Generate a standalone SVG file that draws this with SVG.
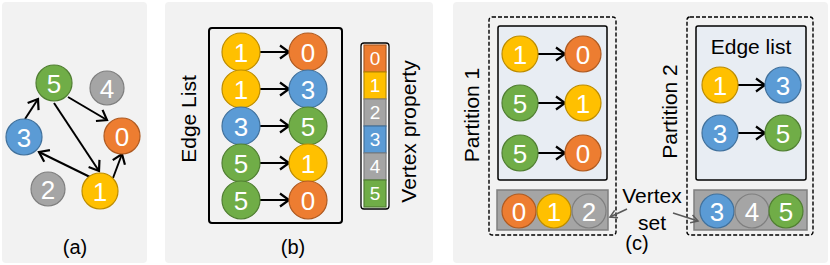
<svg xmlns="http://www.w3.org/2000/svg" width="830" height="265" viewBox="0 0 830 265">
<style>
text{font-family:"Liberation Sans",Arial,sans-serif;}
.bg{fill:#f2f2f2;}
.n text{fill:#fff;font-size:26px;text-anchor:middle;}
.o{fill:#ed7d31;stroke:#ae5a21;stroke-width:1.2;}
.y{fill:#ffc000;stroke:#bc8c00;stroke-width:1.2;}
.b{fill:#5b9bd5;stroke:#41719c;stroke-width:1.2;}
.g{fill:#70ad47;stroke:#507e32;stroke-width:1.2;}
.k{fill:#a5a5a5;stroke:#7f7f7f;stroke-width:1.2;}
.e{stroke:#000;stroke-width:2;fill:none;marker-end:url(#ah);}
.ga{stroke:#595959;stroke-width:1.5;fill:none;marker-end:url(#ag);}
.lbl{fill:#000;font-size:21px;text-anchor:middle;}
.cap{fill:#000;font-size:20px;text-anchor:middle;}
.box{fill:none;stroke:#000;stroke-width:2;}
.ebox{fill:#e8edf3;stroke:#000;stroke-width:1.5;}
.dash{fill:none;stroke:#000;stroke-width:1.4;stroke-dasharray:4,2;}
.vbar{fill:#a5a5a5;stroke:#7f7f7f;stroke-width:1.5;}
.cell text{fill:#fff;font-size:19px;text-anchor:middle;}
</style>
<defs>
<marker id="ah" markerUnits="userSpaceOnUse" markerWidth="16" markerHeight="16" refX="11" refY="8" orient="auto">
<path d="M2,1.5 L11,8 L2,14.5" fill="none" stroke="#000" stroke-width="2.2"/>
</marker>
<marker id="ag" markerUnits="userSpaceOnUse" markerWidth="12" markerHeight="12" refX="9" refY="6" orient="auto">
<path d="M2,2 L9,6 L2,10" fill="none" stroke="#595959" stroke-width="1.5"/>
</marker>
</defs>

<!-- panel backgrounds -->
<rect class="bg" x="2" y="2" width="145" height="261" rx="4"/>
<rect class="bg" x="165" y="2" width="268" height="261" rx="4"/>
<rect class="bg" x="453" y="2" width="375" height="261" rx="4"/>

<!-- panel a -->
<g id="connectors-a">
<line class="e" x1="25" y1="119" x2="38" y2="99"/>
<line class="e" x1="68" y1="97" x2="107" y2="120"/>
<line class="e" x1="54" y1="103" x2="99" y2="171"/>
<line class="e" x1="90" y1="177" x2="39" y2="152"/>
<line class="e" x1="113" y1="178" x2="122" y2="154"/>
</g>
<g id="a-node5" class="n"><circle class="g" cx="54" cy="83" r="18"/><text x="54" y="92.5">5</text></g>
<g id="a-node4" class="n"><circle class="k" cx="107" cy="88" r="17"/><text x="107" y="97.5">4</text></g>
<g id="a-node3" class="n"><circle class="b" cx="24" cy="137" r="18"/><text x="24" y="146.5">3</text></g>
<g id="a-node0" class="n"><circle class="o" cx="122" cy="136" r="18"/><text x="122" y="145.5">0</text></g>
<g id="a-node2" class="n"><circle class="k" cx="48" cy="189" r="17"/><text x="48" y="198.5">2</text></g>
<g id="a-node1" class="n"><circle class="y" cx="100" cy="191" r="18"/><text x="100" y="200.5">1</text></g>
<text class="cap" x="75" y="254">(a)</text>

<!-- panel b -->
<g id="b-edgelist">
<rect class="box" x="209" y="28" width="133" height="195" rx="3"/>
</g>
<g id="connectors-b">
<line class="e" x1="260" y1="52" x2="289" y2="52"/>
<line class="e" x1="260" y1="89" x2="289" y2="89"/>
<line class="e" x1="260" y1="126" x2="289" y2="126"/>
<line class="e" x1="260" y1="163" x2="289" y2="163"/>
<line class="e" x1="260" y1="200" x2="289" y2="200"/>
</g>
<g id="b-r1l" class="n"><circle class="y" cx="241" cy="52" r="19"/><text x="241" y="61.5">1</text></g>
<g id="b-r1r" class="n"><circle class="o" cx="308" cy="52" r="19"/><text x="308" y="61.5">0</text></g>
<g id="b-r2l" class="n"><circle class="y" cx="241" cy="89" r="19"/><text x="241" y="98.5">1</text></g>
<g id="b-r2r" class="n"><circle class="b" cx="308" cy="89" r="19"/><text x="308" y="98.5">3</text></g>
<g id="b-r3l" class="n"><circle class="b" cx="241" cy="126" r="19"/><text x="241" y="135.5">3</text></g>
<g id="b-r3r" class="n"><circle class="g" cx="308" cy="126" r="19"/><text x="308" y="135.5">5</text></g>
<g id="b-r4l" class="n"><circle class="g" cx="241" cy="163" r="19"/><text x="241" y="172.5">5</text></g>
<g id="b-r4r" class="n"><circle class="y" cx="308" cy="163" r="19"/><text x="308" y="172.5">1</text></g>
<g id="b-r5l" class="n"><circle class="g" cx="241" cy="200" r="19"/><text x="241" y="209.5">5</text></g>
<g id="b-r5r" class="n"><circle class="o" cx="308" cy="200" r="19"/><text x="308" y="209.5">0</text></g>
<text class="lbl" transform="translate(196,119) rotate(-90)">Edge List</text>

<g id="b-vprop" class="cell">
<rect x="361" y="43" width="28" height="166" rx="3" fill="#fff" stroke="#000" stroke-width="1.3"/>
<rect class="o" x="364" y="45" width="22" height="27"/><text x="375" y="65">0</text>
<rect class="y" x="364" y="72" width="22" height="27"/><text x="375" y="92">1</text>
<rect class="k" x="364" y="99" width="22" height="27"/><text x="375" y="119">2</text>
<rect class="b" x="364" y="126" width="22" height="27"/><text x="375" y="146">3</text>
<rect class="k" x="364" y="153" width="22" height="27"/><text x="375" y="173">4</text>
<rect class="g" x="364" y="180" width="22" height="27"/><text x="375" y="200">5</text>
</g>
<text class="lbl" transform="translate(416,131.5) rotate(-90)">Vertex property</text>
<text class="cap" x="293" y="254">(b)</text>

<!-- panel c -->
<g id="c-partition1">
<rect class="dash" x="489" y="17" width="127" height="218" rx="3"/>
<rect class="ebox" x="498" y="26" width="109" height="154" rx="2"/>
<rect class="vbar" x="497" y="190" width="111" height="40"/>
</g>
<g id="c-partition2">
<rect class="dash" x="687" y="17" width="126" height="218" rx="3"/>
<rect class="ebox" x="696" y="26" width="110" height="154" rx="2"/>
<rect class="vbar" x="694" y="190" width="113" height="40"/>
</g>
<text class="lbl" transform="translate(479,115) rotate(-90)">Partition 1</text>
<text class="lbl" transform="translate(677,111.5) rotate(-90)">Partition 2</text>
<text class="lbl" x="751" y="54">Edge list</text>

<g id="connectors-c">
<line class="e" x1="538" y1="54" x2="565" y2="54"/>
<line class="e" x1="538" y1="103" x2="565" y2="103"/>
<line class="e" x1="538" y1="153" x2="565" y2="153"/>
<line class="e" x1="738" y1="85" x2="765" y2="85"/>
<line class="e" x1="738" y1="133" x2="765" y2="133"/>
<line class="ga" x1="627" y1="209" x2="610" y2="217"/>
<line class="ga" x1="673" y1="213" x2="698" y2="221"/>
</g>
<g id="c-p1e1l" class="n"><circle class="y" cx="520" cy="54" r="18"/><text x="520" y="63.5">1</text></g>
<g id="c-p1e1r" class="n"><circle class="o" cx="583" cy="54" r="18"/><text x="583" y="63.5">0</text></g>
<g id="c-p1e2l" class="n"><circle class="g" cx="520" cy="103" r="18"/><text x="520" y="112.5">5</text></g>
<g id="c-p1e2r" class="n"><circle class="y" cx="583" cy="103" r="18"/><text x="583" y="112.5">1</text></g>
<g id="c-p1e3l" class="n"><circle class="g" cx="520" cy="153" r="18"/><text x="520" y="162.5">5</text></g>
<g id="c-p1e3r" class="n"><circle class="o" cx="583" cy="153" r="18"/><text x="583" y="162.5">0</text></g>
<g id="c-p2e1l" class="n"><circle class="y" cx="720" cy="85" r="18"/><text x="720" y="94.5">1</text></g>
<g id="c-p2e1r" class="n"><circle class="b" cx="783" cy="85" r="18"/><text x="783" y="94.5">3</text></g>
<g id="c-p2e2l" class="n"><circle class="b" cx="720" cy="133" r="18"/><text x="720" y="142.5">3</text></g>
<g id="c-p2e2r" class="n"><circle class="g" cx="783" cy="133" r="18"/><text x="783" y="142.5">5</text></g>
<g id="c-v0" class="n"><circle class="o" cx="519" cy="211" r="17"/><text x="519" y="220.5">0</text></g>
<g id="c-v1" class="n"><circle class="y" cx="554" cy="211" r="17"/><text x="554" y="220.5">1</text></g>
<g id="c-v2" class="n"><circle class="k" cx="589" cy="211" r="17"/><text x="589" y="220.5">2</text></g>
<g id="c-v3" class="n"><circle class="b" cx="717" cy="211" r="17"/><text x="717" y="220.5">3</text></g>
<g id="c-v4" class="n"><circle class="k" cx="752" cy="211" r="17"/><text x="752" y="220.5">4</text></g>
<g id="c-v5" class="n"><circle class="g" cx="786" cy="211" r="17"/><text x="786" y="220.5">5</text></g>
<text class="lbl" x="652" y="203">Vertex</text>
<text class="lbl" x="652" y="230">set</text>
<text class="cap" x="637" y="250">(c)</text>
</svg>
